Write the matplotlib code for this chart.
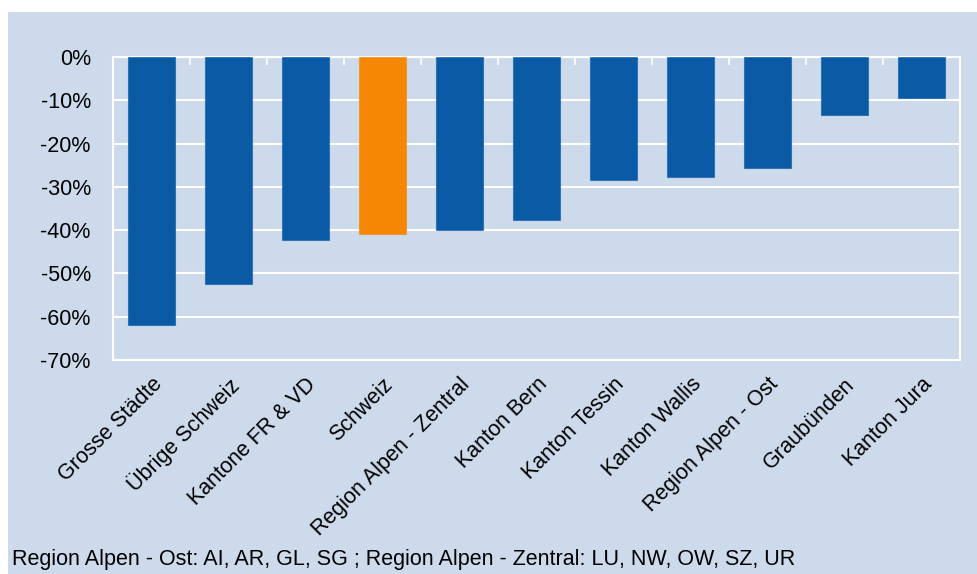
import matplotlib.pyplot as plt
from matplotlib.patches import Rectangle
from matplotlib.ticker import FuncFormatter
import numpy as np

plt.rcParams['font.family'] = ['Liberation Sans', 'DejaVu Sans']

categories = ['Grosse Städte', 'Übrige Schweiz', 'Kantone FR & VD', 'Schweiz',
              'Region Alpen - Zentral', 'Kanton Bern', 'Kanton Tessin', 'Kanton Wallis',
              'Region Alpen - Ost', 'Graubünden', 'Kanton Jura']
values = [-62.0, -52.5, -42.3, -40.9, -40.0, -37.7, -28.4, -27.8, -25.7, -13.4, -9.5]
highlight = 'Schweiz'
footnote = 'Region Alpen - Ost: AI, AR, GL, SG ; Region Alpen - Zentral: LU, NW, OW, SZ, UR'

bg = '#CDDAEB'
blue = '#0A5AA5'
orange = '#F58705'

fig = plt.figure(figsize=(9.78, 5.74), dpi=100, facecolor='white')
fig.patches.append(Rectangle((8 / 978, 0), 1, 1 - 12 / 574, transform=fig.transFigure,
                             facecolor=bg, edgecolor='none', zorder=-5))

ax = fig.add_axes([113 / 978, 1 - 360 / 574, (960 - 113) / 978, (360 - 57) / 574])
ax.set_facecolor(bg)
ax.set_zorder(2)

x = np.arange(len(categories))
colors = [orange if c == highlight else blue for c in categories]
ax.bar(x, values, width=0.62, color=colors, edgecolor=[c + '99' for c in colors],
       linewidth=0.8, zorder=3)

ax.set_ylim(-70, 0)
ax.set_xlim(-0.5, len(categories) - 0.5)
ax.set_yticks(np.arange(-70, 1, 10))
ax.yaxis.set_major_formatter(FuncFormatter(lambda v, p: f'{int(v)}%'))
ax.grid(axis='y', color='white', linewidth=1.5, zorder=1)
ax.set_axisbelow(True)

for side in ['left', 'right', 'bottom', 'top']:
    ax.spines[side].set_color('white')
    ax.spines[side].set_linewidth(1.5)

ax.tick_params(axis='y', length=0, pad=16, labelsize=15.5, labelcolor='black')
ax.set_xticks(x)
ax.set_xticklabels(categories, rotation=45, ha='right', va='top',
                   rotation_mode='anchor', fontsize=15.5)
ax.tick_params(axis='x', length=0, pad=10)

# category boundary ticks along the zero line
ax.set_xticks(np.arange(-0.5, len(categories), 1), minor=True)
ax.tick_params(axis='x', which='minor', top=True, bottom=False, direction='in',
               length=6, width=1.2, color='white')

fig.text(12 / 978, 1 - 560 / 574, footnote, fontsize=15.5, va='center', ha='left')

fig.savefig('out.png', dpi=100, facecolor=fig.get_facecolor())
